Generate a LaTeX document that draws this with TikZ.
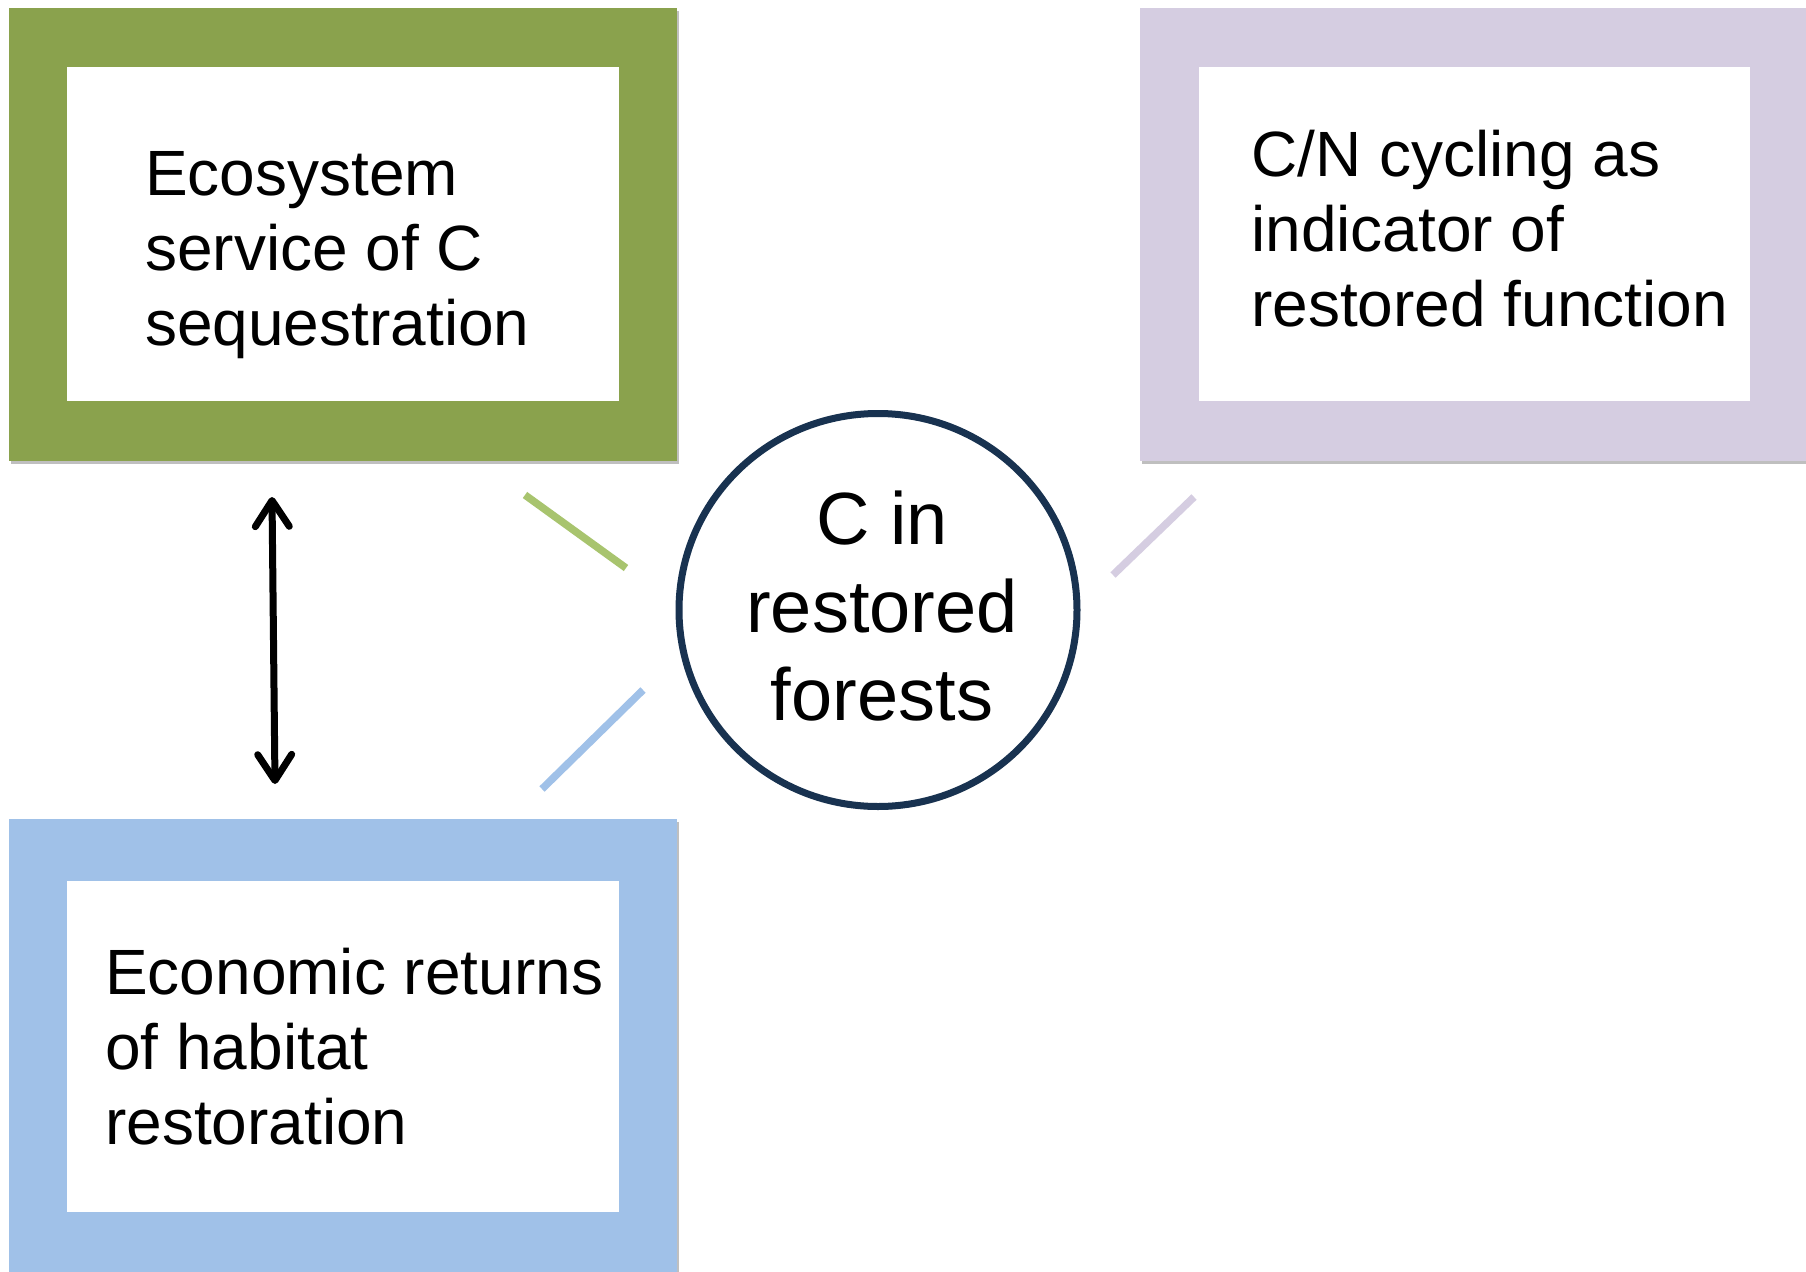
\documentclass[tikz,border=0pt]{standalone}
\usepackage{fontspec}
\setmainfont{Liberation Sans}
\usetikzlibrary{shadows,arrows.meta,shapes.geometric}
\definecolor{frgreen}{RGB}{138,162,77}
\definecolor{frpurple}{RGB}{213,205,225}
\definecolor{frblue}{RGB}{160,193,232}
\definecolor{lngreen}{RGB}{168,196,110}
\definecolor{lnpurple}{RGB}{213,205,225}
\definecolor{lnblue}{RGB}{160,193,232}
\definecolor{navy}{RGB}{24,50,80}
\tikzset{
  frame/.style={anchor=north west, inner sep=0pt, outer sep=0pt, fill=#1,
    drop shadow={shadow xshift=2pt, shadow yshift=-3pt, opacity=0.25, fill=black}},
  innerbox/.style={anchor=north west, inner sep=0pt, outer sep=0pt, fill=white},
  boxtext/.style={anchor=north west, inner sep=0pt, align=left,
    font=\fontsize{64}{75}\selectfont},
  link/.style={line width=7.5pt, draw=#1, line cap=butt},
  twoway/.style={line width=7pt, draw=black,
    {Straight Barb[length=26pt,width=34pt,round]}-{Straight Barb[length=26pt,width=34pt,round]}}
}
\begin{document}
\begin{tikzpicture}[x=1pt,y=-1pt]
\useasboundingbox (0,0) rectangle (1806,1271);
\fill[white] (0,0) rectangle (1806,1271);

% green frame
\node[frame=frgreen, minimum width=668pt, minimum height=453pt] (gout) at (9,8) {};
\node[innerbox, minimum width=552pt, minimum height=334pt] (gin) at (67,67) {};
\node[boxtext] (gtxt) at (145,151) {Ecosystem\\service of C\\sequestration};

% purple frame
\node[frame=frpurple, minimum width=670pt, minimum height=453pt] (pout) at (1140,8) {};
\node[innerbox, minimum width=551pt, minimum height=334pt] (pin) at (1199,67) {};
\node[boxtext] (ptxt) at (1251,130) {C/N cycling as\\indicator of\\restored function};

% blue frame
\node[frame=frblue, minimum width=668pt, minimum height=456pt] (bout) at (9,819) {};
\node[innerbox, minimum width=552pt, minimum height=331pt] (bin) at (67,881) {};
\node[boxtext] (btxt) at (105,948) {Economic returns\\of habitat\\restoration};

% centre circle
\node[ellipse, draw=navy, line width=7pt, fill=white, inner sep=0pt,
      minimum width=398pt, minimum height=393pt,
      drop shadow={shadow xshift=2pt, shadow yshift=-3pt, opacity=0.2, fill=black}]
      (circ) at (878,610) {};
\node[align=center, inner sep=0pt, font=\fontsize{74}{88}\selectfont]
      (ctxt) at (882,606) {C in\\restored\\forests};

% short link lines
\coordinate (g1) at (525,495);
\coordinate (g2) at (626,568);
\coordinate (p1) at (1194,497);
\coordinate (p2) at (1113,575);
\coordinate (b1) at (643,690);
\coordinate (b2) at (542,789);
\draw[link=lngreen] (g1) -- (g2);
\draw[link=lnpurple] (p1) -- (p2);
\draw[link=lnblue] (b1) -- (b2);

% double arrow
\coordinate (a1) at (272,497);
\coordinate (a2) at (275,784);
\draw[twoway] (a1) -- (a2);
\end{tikzpicture}
\end{document}
